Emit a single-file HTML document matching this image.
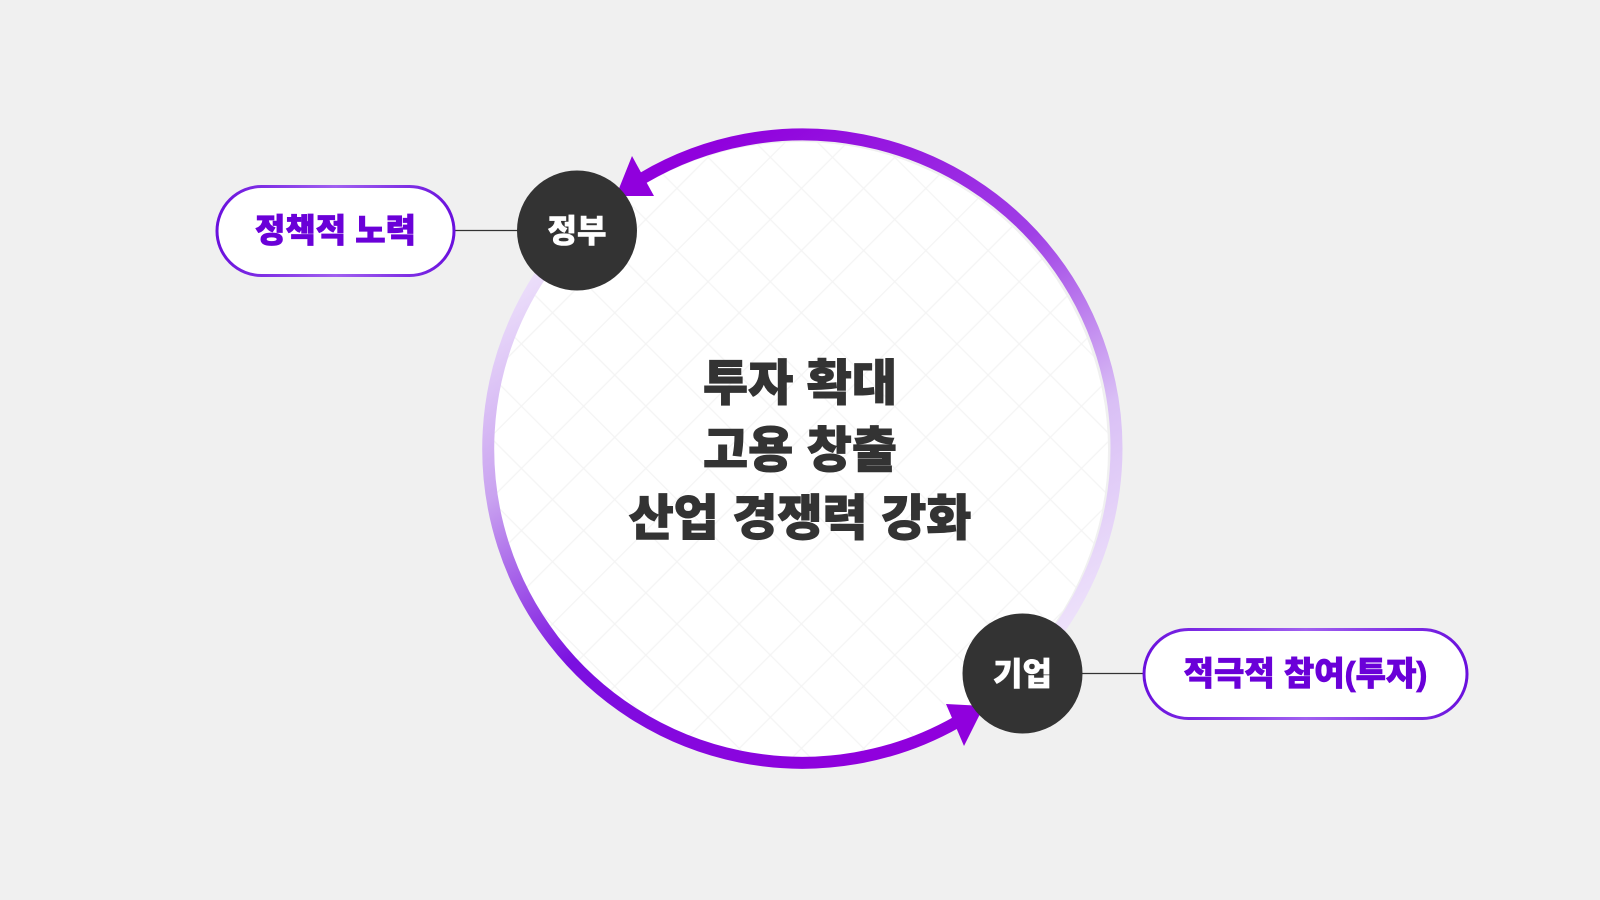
<!DOCTYPE html>
<html><head><meta charset="utf-8"><style>
html,body{margin:0;padding:0;background:#f0f0f0;}
svg{display:block}
text{font-family:"Liberation Sans","Noto Sans CJK KR","NanumGothic",sans-serif;font-weight:900}
</style></head><body>
<svg width="1600" height="900" viewBox="0 0 1600 900" xmlns="http://www.w3.org/2000/svg">
<defs>
<pattern id="grid" width="44" height="44" patternUnits="userSpaceOnUse" patternTransform="rotate(45 800 450)">
<rect width="44" height="44" fill="none" stroke="#f4f4f4" stroke-width="1.3"/>
</pattern>
<linearGradient id="g1" gradientUnits="userSpaceOnUse" x1="1022" y1="673" x2="700" y2="150">
<stop offset="0" stop-color="#efe4fb"/><stop offset="0.3" stop-color="#d9bff5"/><stop offset="0.6" stop-color="#a040e6"/><stop offset="1" stop-color="#9000dd"/>
</linearGradient>
<linearGradient id="g2" gradientUnits="userSpaceOnUse" x1="577" y1="230" x2="900" y2="740">
<stop offset="0" stop-color="#efe4fb"/><stop offset="0.3" stop-color="#c9a2f0"/><stop offset="0.6" stop-color="#7a10e0"/><stop offset="1" stop-color="#9000dd"/>
</linearGradient>
<linearGradient id="pg" x1="0" y1="0" x2="1" y2="0">
<stop offset="0" stop-color="#6a10dd"/><stop offset="0.5" stop-color="#a060f0"/><stop offset="1" stop-color="#6a10dd"/>
</linearGradient>
</defs>
<circle cx="800" cy="450" r="308" fill="#ffffff"/>
<circle cx="800" cy="450" r="308" fill="url(#grid)"/>
<path d="M 1022 673 A 314 314 0 0 0 643 178" fill="none" stroke="url(#g1)" stroke-width="12"/>
<path d="M 577 230 A 314 314 0 0 0 957 722" fill="none" stroke="url(#g2)" stroke-width="12"/>
<polygon points="632,156 654,196 616,196" fill="#9000dd"/>
<polygon points="964,746 946,704 984,706" fill="#9000dd"/>
<line x1="455" y1="230.5" x2="520" y2="230.5" stroke="#333" stroke-width="1.3"/>
<line x1="1080" y1="673.5" x2="1145" y2="673.5" stroke="#333" stroke-width="1.3"/>
<circle cx="577" cy="230.5" r="60" fill="#333333"/>
<text x="577" y="242" text-anchor="middle" font-size="32" fill="#fff" stroke="#fff" stroke-width="0.6">정부</text>
<circle cx="1022.5" cy="673.5" r="60" fill="#333333"/>
<text x="1022.5" y="685" text-anchor="middle" font-size="32" fill="#fff" stroke="#fff" stroke-width="0.6">기업</text>
<rect x="217" y="186.5" width="237" height="89" rx="44.5" fill="#fff" stroke="url(#pg)" stroke-width="3"/>
<text x="335.5" y="242" text-anchor="middle" font-size="33" fill="#6a00d8" stroke="#6a00d8" stroke-width="0.8">정책적 노력</text>
<rect x="1144" y="629.5" width="323" height="89" rx="44.5" fill="#fff" stroke="url(#pg)" stroke-width="3"/>
<text x="1305.5" y="685" text-anchor="middle" font-size="33" fill="#6a00d8" stroke="#6a00d8" stroke-width="0.8">적극적 참여(투자)</text>
<g fill="#333" stroke="#333" stroke-width="1">
<text x="800" y="400" text-anchor="middle" font-size="49">투자 확대</text>
<text x="800" y="467" text-anchor="middle" font-size="49">고용 창출</text>
<text x="800" y="535" text-anchor="middle" font-size="49">산업 경쟁력 강화</text>
</g>
</svg>
</body></html>
